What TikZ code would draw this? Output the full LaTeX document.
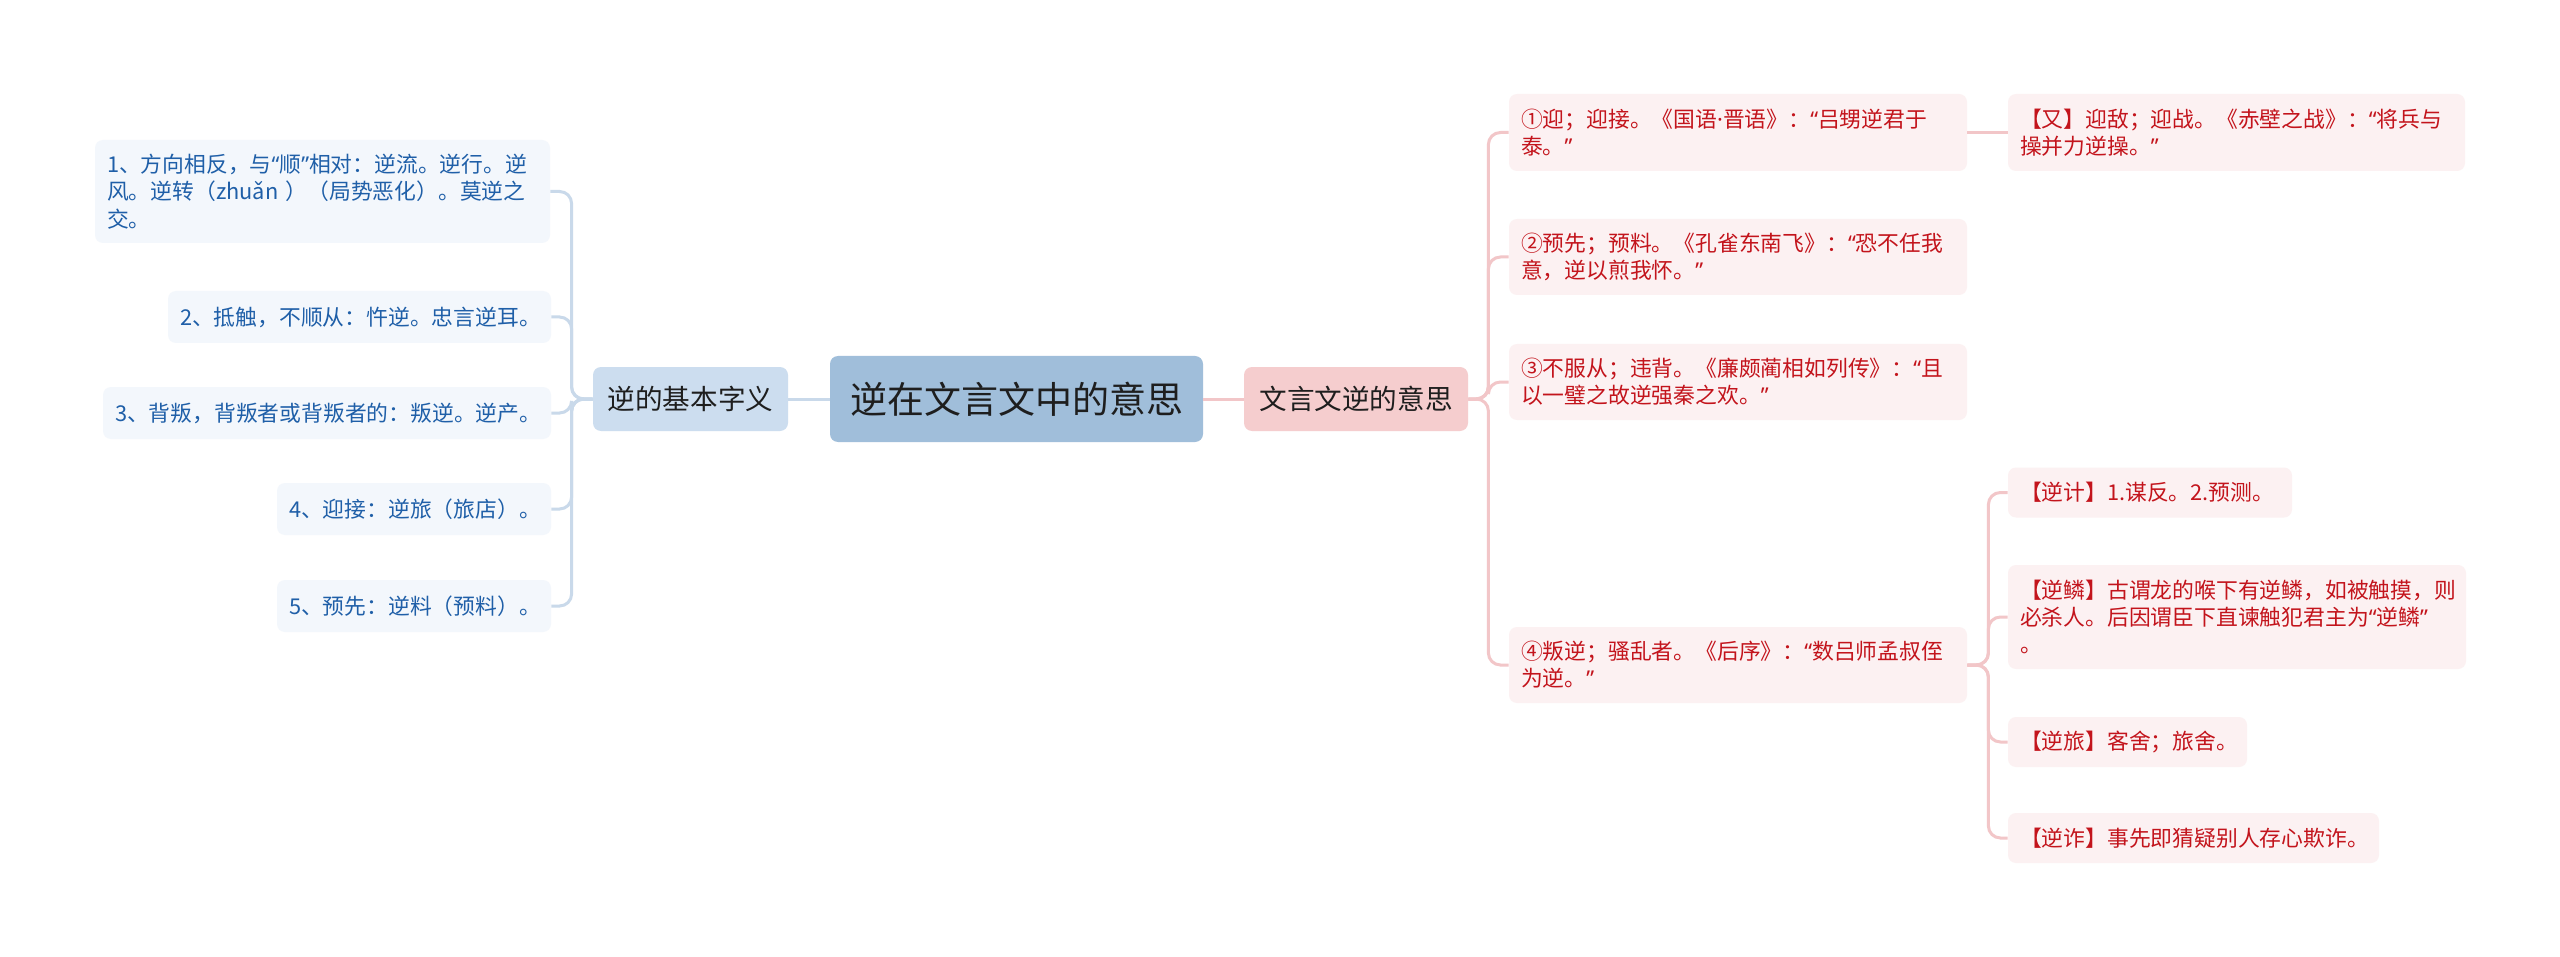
\documentclass[tikz,border=0pt]{standalone}
\usepackage{fontspec}
\setmainfont{Noto Sans CJK SC}
\newfontfamily\qfont{Noto Sans}
\newcommand\oq{{\qfont “}}
\newcommand\cq{{\qfont ”}}
\newcommand\mdot{{\qfont ·}}
\definecolor{rootfill}{HTML}{A0BEDA}
\definecolor{lmainfill}{HTML}{CCDDEF}
\definecolor{rmainfill}{HTML}{F5CDCE}
\definecolor{lleaffill}{HTML}{F3F7FC}
\definecolor{rleaffill}{HTML}{FCF1F2}
\definecolor{lleaftext}{HTML}{1F5FA8}
\definecolor{rleaftext}{HTML}{C3141C}
\definecolor{lline}{HTML}{C9D9EA}
\definecolor{rline}{HTML}{F2C6C8}
\definecolor{darktext}{HTML}{1E1E1E}
\begin{document}
\begin{tikzpicture}[x=0.5pt,y=-0.5pt,
  box/.style={rectangle, rounded corners=4pt, inner ysep=0pt},
  rootbox/.style={box, fill=rootfill, text=darktext, align=center, inner xsep=0pt,
    font=\fontsize{18.5pt}{22pt}\selectfont},
  mainbox/.style={box, text=darktext, align=center, inner xsep=0pt,
    font=\fontsize{13.8pt}{17pt}\selectfont},
  lleaf/.style={box, fill=lleaffill, text=lleaftext, align=left, inner xsep=6pt,
    font=\fontsize{10.9pt}{13.6pt}\selectfont},
  rleaf/.style={box, fill=rleaffill, text=rleaftext, align=left, inner xsep=6pt,
    font=\fontsize{10.9pt}{13.6pt}\selectfont},
  lconn/.style={draw=lline, line width=1.5pt, rounded corners=6pt},
  rconn/.style={draw=rline, line width=1.5pt, rounded corners=6pt}]
\useasboundingbox[fill=white] (0,0) rectangle (2560,957);

% central nodes
\node[rootbox, minimum width=186.5pt, minimum height=43pt] (root) at (1016.5,399) {逆在文言文中的意思};
\node[mainbox, fill=lmainfill, minimum width=97.5pt, minimum height=32pt] (lc) at (690.5,399) {逆的基本字义};
\node[mainbox, fill=rmainfill, minimum width=112pt, minimum height=32pt] (rc) at (1356,399) {文言文逆的意思};

% left leaves
\node[lleaf, text width=215.5pt, minimum height=51.5pt] (l1) at (322.5,191.5) {1、方向相反，与\oq 顺\cq 相对：逆流。逆行。逆\\风。逆转（zhuǎn ）（局势恶化）。莫逆之\\交。};
\node[lleaf, text width=179.5pt, minimum height=26pt] (l2) at (359.5,317) {2、抵触，不顺从：忤逆。忠言逆耳。};
\node[lleaf, text width=212pt, minimum height=26pt] (l3) at (327,413) {3、背叛，背叛者或背叛者的：叛逆。逆产。};
\node[lleaf, text width=125pt, minimum height=26pt] (l4) at (414,509) {4、迎接：逆旅（旅店）。};
\node[lleaf, text width=125pt, minimum height=26pt] (l5) at (414,606) {5、预先：逆料（预料）。};

% right first-level leaves
\node[rleaf, text width=217pt, minimum height=38.5pt] (r1) at (1738,132.5) {①迎；迎接。《国语\mdot 晋语》：\oq 吕甥逆君于\\泰。\cq};
\node[rleaf, text width=217pt, minimum height=38pt] (r2) at (1738,257) {②预先；预料。《孔雀东南飞》：\oq 恐不任我\\意，逆以煎我怀。\cq};
\node[rleaf, text width=217pt, minimum height=38pt] (r3) at (1738,382) {③不服从；违背。《廉颇蔺相如列传》：\oq 且\\以一璧之故逆强秦之欢。\cq};
\node[rleaf, text width=217pt, minimum height=38pt] (r4) at (1738,665) {④叛逆；骚乱者。《后序》：\oq 数吕师孟叔侄\\为逆。\cq};

% second-level leaves
\node[rleaf, text width=216.5pt, minimum height=38.5pt] (ry) at (2236.5,132.5) {【又】迎敌；迎战。《赤壁之战》：\oq 将兵与\\操并力逆操。\cq};
\node[rleaf, text width=130pt, minimum height=25pt] (s1) at (2150,492.5) {【逆计】1.谋反。2.预测。};
\node[rleaf, text width=217pt, minimum height=52pt] (s2) at (2237,617) {【逆鳞】古谓龙的喉下有逆鳞，如被触摸，则\\必杀人。后因谓臣下直谏触犯君主为\oq 逆鳞\cq\\。};
\node[rleaf, text width=107.5pt, minimum height=25pt] (s3) at (2127.5,742) {【逆旅】客舍；旅舍。};
\node[rleaf, text width=173.5pt, minimum height=25pt] (s4) at (2193.5,838) {【逆诈】事先即猜疑别人存心欺诈。};

% connectors
\draw[lconn] (root.west) -- (lc.east);
\draw[rconn] (root.east) -- (rc.west);
\foreach \n in {l1,l2,l3,l4,l5}
  \draw[lconn] (lc.west) -- ++(-21,0) |- (\n.east);
\foreach \n in {r1,r2,r3,r4}
  \draw[rconn] (rc.east) -- ++(20,0) |- (\n.west);
\draw[rconn] (r1.east) -- (ry.west);
\foreach \n in {s1,s2,s3,s4}
  \draw[rconn] (r4.east) -- ++(21,0) |- (\n.west);
\end{tikzpicture}
\end{document}
